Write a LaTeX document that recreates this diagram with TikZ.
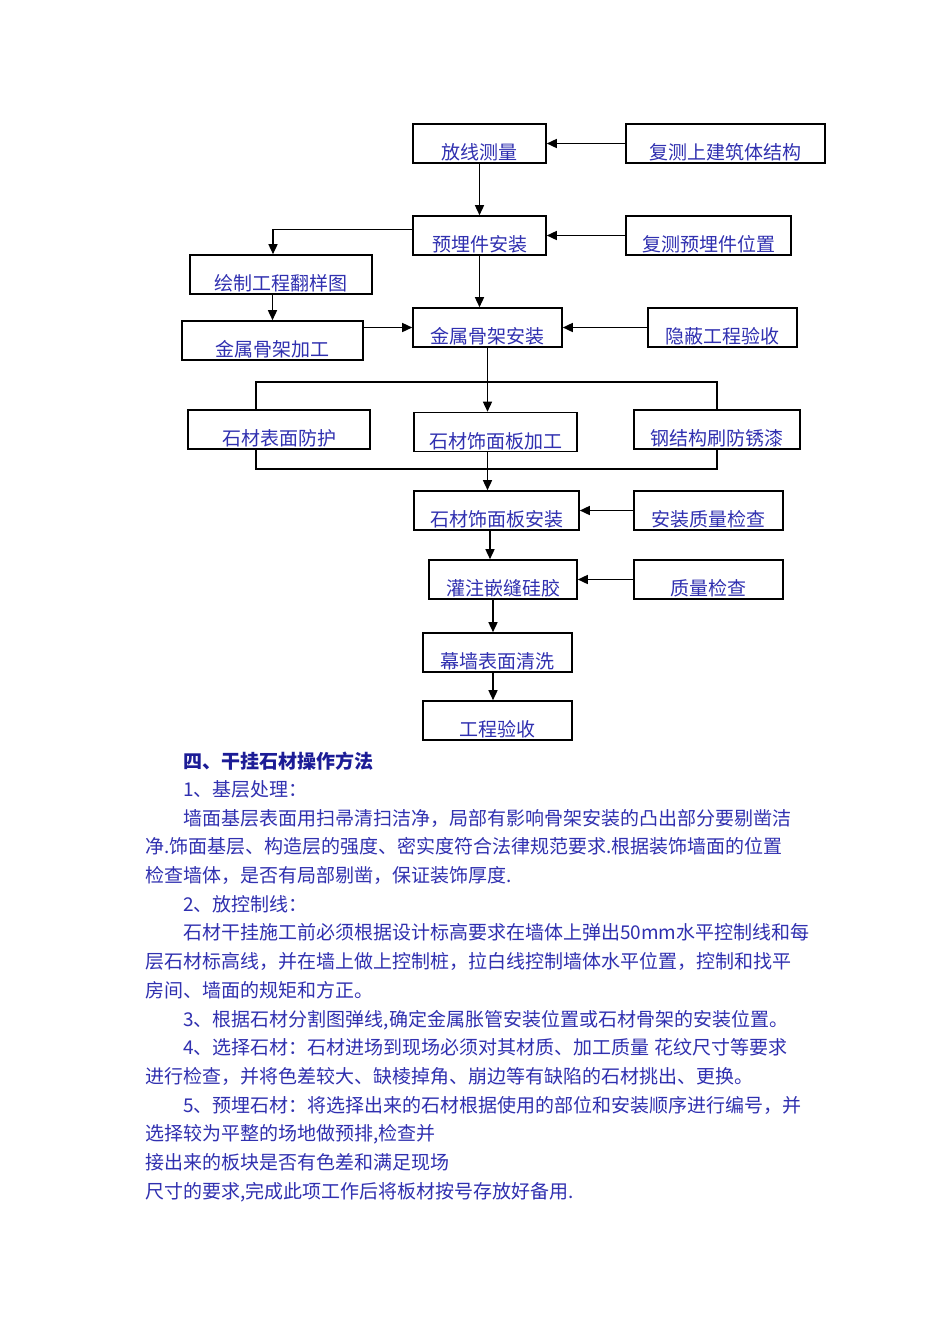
\documentclass[tikz,border=0pt]{standalone}
\usepackage{fontspec}
\setmainfont{Noto Sans CJK SC}
\usetikzlibrary{arrows.meta}
\definecolor{inkblue}{RGB}{48,48,176}
\definecolor{headblue}{RGB}{28,28,150}
\begin{document}
\begin{tikzpicture}[x=1pt, y=-1pt,
    box/.style={draw=black, line width=1.6pt, minimum height=39pt, inner xsep=0pt, inner ysep=0pt,
      text height=35.5pt, text depth=3.5pt, text=inkblue, font=\fontsize{19}{22}\selectfont},
    arr/.style={line width=1.5pt, -{Triangle[length=10pt, width=9pt]}},
    link/.style={line width=1.5pt},
    txt/.style={anchor=base west, inner sep=0pt, text=inkblue, font=\fontsize{19}{22}\selectfont}]
  \useasboundingbox[fill=white] (0,0) rectangle (950,1344);
  % flow chart boxes
  \foreach \nm/\cx/\cy/\w/\t in {fx/479.5/143.5/133/放线测量, fc/725.5/143.5/199/复测上建筑体结构,
      yj/479.5/235.5/133/预埋件安装, fy/708.5/235.5/165/复测预埋件位置,
      hz/281/274.5/182/绘制工程翻样图, jg/272.5/340.5/181/金属骨架加工,
      ja/487.5/327.5/149/金属骨架安装, yb/722.5/327.5/149/隐蔽工程验收,
      bm/279/429.5/182/石材表面防护, sj/495.5/432/163/石材饰面板加工, gj/717/429.5/166/钢结构刷防锈漆,
      sa/496.5/510.5/165/石材饰面板安装, zl/708.5/510.5/149/安装质量检查,
      gz/503/579.5/148/灌注嵌缝硅胶, zj/708.5/579.5/149/质量检查,
      mq/497.5/652.5/149/幕墙表面清洗, ys/497.5/720.5/149/工程验收} {
    \node[box, minimum width=\w pt] (\nm) at (\cx,\cy) {\t};
  }
  % side inputs
  \draw[arr] (fc.west) -- (fx.east);
  \draw[arr] (fy.west) -- (yj.east);
  \draw[arr] (yb.west) -- (ja.east);
  \draw[arr] (zl.west) -- (sa.east);
  \draw[arr] (zj.west) -- (gz.east);
  % main column
  \draw[arr] (fx.south) -- (yj.north);
  \draw[arr] (yj.south) -- (yj.south |- ja.north);
  \draw[arr] ([yshift=6pt]yj.west) -| ([xshift=-8pt]hz.north);
  \draw[arr] (hz.south -| jg.north) -- (jg.north);
  \draw[arr] (jg.east |- ja.west) -- (ja.west);
  \draw[arr] (ja.south) -- (ja.south |- sj.north);
  % branch round the three parallel steps
  \coordinate (split) at (487.5,382);
  \coordinate (merge) at (487.5,469);
  \draw[link] ([xshift=-23pt]bm.north) |- (split) -| (gj.north);
  \draw[link] ([xshift=-23pt]bm.south) |- (merge) -| (gj.south);
  \draw[arr] (ja.south |- sj.south) -- (ja.south |- sa.north);
  \draw[arr] ([xshift=-6.5pt]sa.south) -- ([xshift=-6.5pt]sa.south |- gz.north);
  \draw[arr] ([xshift=-4.5pt]mq.north |- gz.south) -- ([xshift=-4.5pt]mq.north);
  \draw[arr] ([xshift=-4.5pt]mq.south) -- ([xshift=-4.5pt]ys.north);
  % text below the chart
  \node[txt, text=headblue, font=\fontsize{19}{22}\selectfont\bfseries] (head) at (183,768) {四、干挂石材操作方法};
  \foreach \lx/\ly/\l [count=\n] in {183/796/1、基层处理：,
      183/825/墙面基层表面用扫帚清扫洁净，局部有影响骨架安装的凸出部分要剔凿洁,
      145/853/净.饰面基层、构造层的强度、密实度符合法律规范要求.根据装饰墙面的位置,
      145/882/检查墙体，是否有局部剔凿，保证装饰厚度.,
      183/911/2、放控制线：,
      183/939/石材干挂施工前必须根据设计标高要求在墙体上弹出50mm水平控制线和每,
      145/968/层石材标高线，并在墙上做上控制桩，拉白线控制墙体水平位置，控制和找平,
      145/997/房间、墙面的规矩和方正。,
      183/1026/3、根据石材分割图弹线{,}确定金属胀管安装位置或石材骨架的安装位置。,
      183/1054/4、选择石材：石材进场到现场必须对其材质、加工质量 花纹尺寸等要求,
      145/1083/进行检查，并将色差较大、缺棱掉角、崩边等有缺陷的石材挑出、更换。,
      183/1112/5、预埋石材：将选择出来的石材根据使用的部位和安装顺序进行编号，并,
      145/1140/选择较为平整的场地做预排{,}检查并,
      145/1169/接出来的板块是否有色差和满足现场,
      145/1198/尺寸的要求{,}完成此项工作后将板材按号存放好备用.} {
    \node[txt] (t\n) at (\lx,\ly) {\l};
  }
\end{tikzpicture}
\end{document}
